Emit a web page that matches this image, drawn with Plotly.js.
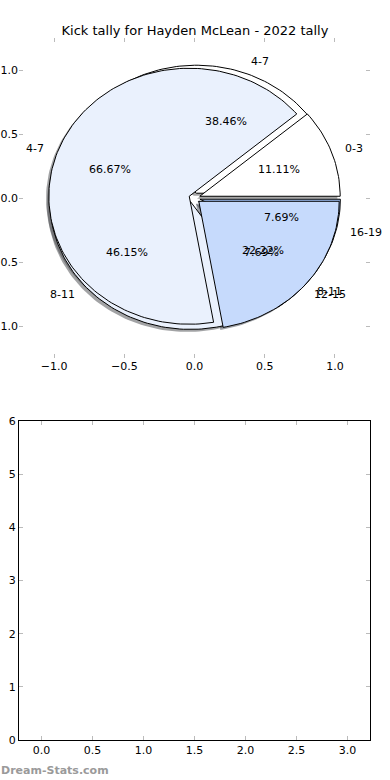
<!DOCTYPE html>
<html><head><meta charset="utf-8">
<script src="https://cdn.plot.ly/plotly-3.0.1.min.js"></script>
<style>html,body{margin:0;padding:0;background:#fff}</style>
</head><body><div id="chart" style="width:390px;height:780px"></div>
<script>
// ---- data ----
const chartTitle = 'Kick tally for Hayden McLean - 2022 tally';
const labelsA = ['0-3', '4-7', '8-11'];
const valuesA = [1, 6, 2];
const labelsB = ['4-7', '8-11', '12-15', '16-19'];
const valuesB = [5, 6, 1, 1];
const sliceColors = ['#FFFFFF', '#EAF1FD', '#C6DAFC', '#A3C3FA'];
const pieTicks = [-1.0, -0.5, 0.0, 0.5, 1.0];
const lowerXTicks = [0.0, 0.5, 1.0, 1.5, 2.0, 2.5, 3.0];
const lowerYTicks = [0, 1, 2, 3, 4, 5, 6];
const watermark = 'Dream-Stats.com';

// ---- style ----
const EXPLODE = 0.04, LABEL_R = 1.1, PCT_R = 0.6;
const FONT = 'DejaVu Sans, sans-serif';

function buildWedges(labels, values) {
  const total = values.reduce((a, b) => a + b, 0);
  let start = 0;
  return values.map((v, i) => {
    const frac = v / total;
    const t1 = start * 360, t2 = (start + frac) * 360;
    start += frac;
    const mid = (t1 + t2) / 2 * Math.PI / 180;
    const cx = EXPLODE * Math.cos(mid), cy = EXPLODE * Math.sin(mid);
    const n = Math.max(4, Math.ceil((t2 - t1) / 1.5));
    const xs = [cx], ys = [cy];
    for (let k = 0; k <= n; k++) {
      const a = (t1 + (t2 - t1) * k / n) * Math.PI / 180;
      xs.push(cx + Math.cos(a)); ys.push(cy + Math.sin(a));
    }
    xs.push(cx); ys.push(cy);
    return {xs, ys, mid, cx, cy, label: labels[i],
            pct: (frac * 100).toFixed(2) + '%', color: sliceColors[i % sliceColors.length]};
  });
}

function shade(hex) {
  const r = parseInt(hex.slice(1, 3), 16), g = parseInt(hex.slice(3, 5), 16), b = parseInt(hex.slice(5, 7), 16);
  return 'rgba(' + Math.round(r * 0.3) + ',' + Math.round(g * 0.3) + ',' + Math.round(b * 0.3) + ',0.5)';
}

const wA = buildWedges(labelsA, valuesA);
const wB = buildWedges(labelsB, valuesB);

const traces = [];
[wB, wA].forEach(ws => ws.forEach(w => {
  traces.push({type: 'scatter', mode: 'lines', x: w.xs.map(v => v - 0.02), y: w.ys.map(v => v - 0.02),
    fill: 'toself', fillcolor: shade(w.color), line: {width: 0}, hoverinfo: 'skip', showlegend: false,
    xaxis: 'x', yaxis: 'y'});
}));
[wB, wA].forEach(ws => ws.forEach(w => {
  traces.push({type: 'scatter', mode: 'lines', x: w.xs, y: w.ys,
    fill: 'toself', fillcolor: w.color, line: {width: 1, color: '#000'}, hoverinfo: 'skip', showlegend: false,
    xaxis: 'x', yaxis: 'y'});
}));
// empty lower axes
traces.push({type: 'scatter', mode: 'markers', x: [], y: [], xaxis: 'x2', yaxis: 'y2', showlegend: false});

const annotations = [];
[wB, wA].forEach(ws => ws.forEach(w => {
  const lx = w.cx + LABEL_R * Math.cos(w.mid), ly = w.cy + LABEL_R * Math.sin(w.mid);
  annotations.push({x: lx, y: ly, xref: 'x', yref: 'y', text: w.label, showarrow: false,
    xanchor: lx > 0 ? 'left' : 'right', yanchor: 'middle', borderpad: 0, borderwidth: 0,
    font: {family: FONT, size: 11, color: '#000'}});
  const px = w.cx + PCT_R * Math.cos(w.mid), py = w.cy + PCT_R * Math.sin(w.mid);
  annotations.push({x: px, y: py, xref: 'x', yref: 'y', text: w.pct, showarrow: false,
    xanchor: 'center', yanchor: 'middle', borderpad: 0, borderwidth: 0,
    font: {family: FONT, size: 11, color: '#000'}});
}));
annotations.push({x: 0, y: 0, xref: 'paper', yref: 'paper', xanchor: 'left', yanchor: 'bottom',
  text: '<b>' + watermark + '</b>', showarrow: false, borderpad: 0, yshift: 2,
  font: {family: FONT, size: 11, color: '#9a9a9a'}});

const tickFont = {family: FONT, size: 11, color: '#000'};
const base = {showgrid: false, zeroline: false, ticks: 'inside', ticklen: 4, tickwidth: 1,
  tickcolor: '#bbbbbb', tickfont: tickFont, fixedrange: true, mirror: 'ticks'};

const layout = {
  width: 390, height: 780, margin: {l: 0, r: 0, t: 0, b: 0},
  paper_bgcolor: '#fff', plot_bgcolor: '#fff',
  title: {text: chartTitle, x: 0.5, xanchor: 'center', y: 1 - 30 / 780, yanchor: 'middle',
          font: {family: FONT, size: 13, color: '#000'}},
  xaxis: Object.assign({}, base, {domain: [19 / 390, 370 / 390], range: [-1.25, 1.25],
    tickvals: pieTicks, ticktext: pieTicks.map(v => (v < 0 ? '\u2212' : '') + Math.abs(v).toFixed(1)),
    showline: false, anchor: 'y'}),
  yaxis: Object.assign({}, base, {domain: [1 - 358 / 780, 1 - 38 / 780], range: [-1.25, 1.25],
    tickvals: pieTicks, ticktext: pieTicks.map(v => (v < 0 ? '\u2212' : '') + Math.abs(v).toFixed(1)),
    showline: false, anchor: 'x'}),
  xaxis2: Object.assign({}, base, {domain: [19 / 390, 370 / 390], range: [-0.22, 3.22],
    tickvals: lowerXTicks, ticktext: lowerXTicks.map(v => v.toFixed(1)),
    showline: true, linecolor: '#000', linewidth: 1, anchor: 'y2'}),
  yaxis2: Object.assign({}, base, {domain: [1 - 740 / 780, 1 - 421 / 780], range: [0, 6],
    tickvals: lowerYTicks, ticktext: lowerYTicks.map(v => String(v)),
    showline: true, linecolor: '#000', linewidth: 1, anchor: 'x2'}),
  annotations: annotations
};

Plotly.newPlot('chart', traces, layout, {displayModeBar: false, staticPlot: true});
</script></body></html>
